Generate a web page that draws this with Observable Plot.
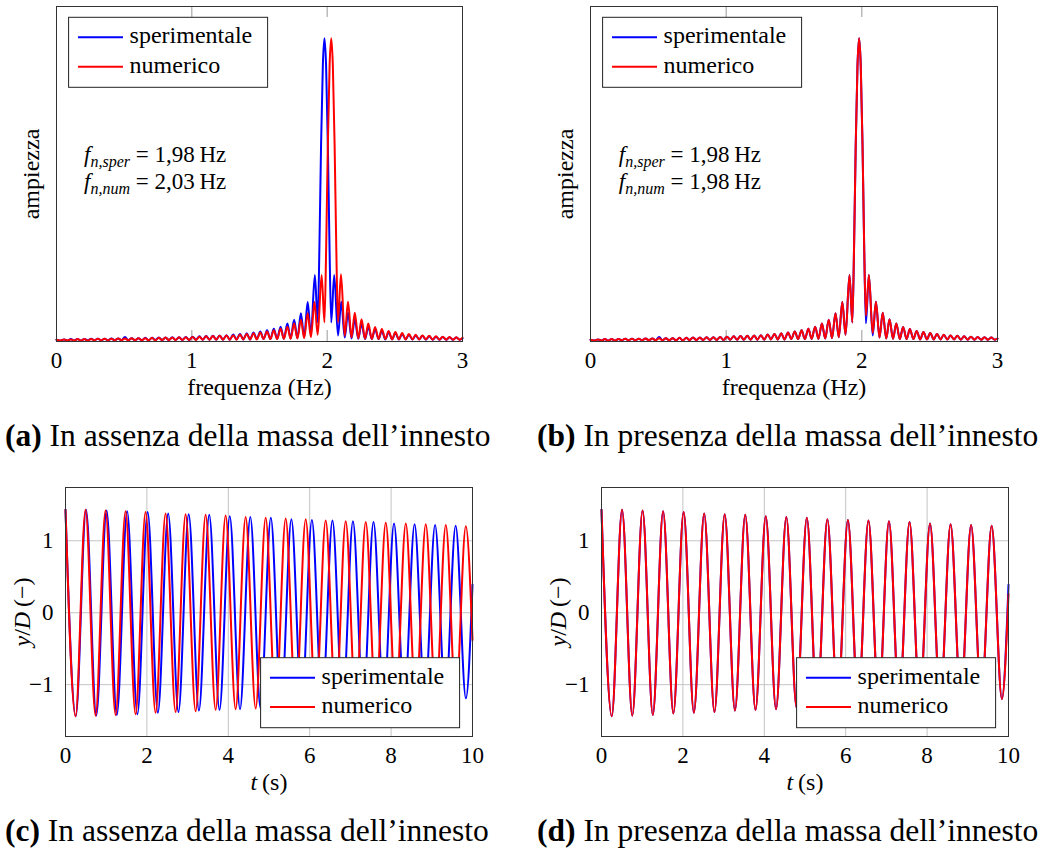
<!DOCTYPE html>
<html><head><meta charset="utf-8">
<script src="https://cdn.jsdelivr.net/npm/d3@7"></script>
<script src="https://cdn.jsdelivr.net/npm/@observablehq/plot@0.6"></script>
<style>
body{margin:0;background:#fff;}
#page{position:relative;width:1041px;height:851px;background:#fff;font-family:"Liberation Serif",serif;color:#000;overflow:hidden}
#page svg text, #page svg tspan{font-family:"Liberation Serif",serif !important;}
.panel{position:absolute}
.cap{position:absolute;font-size:31.5px;white-space:nowrap;line-height:32px}
</style></head><body><div id="page"></div>
<script>
// ---------- data ----------
const seriesNames = ["sperimentale", "numerico"];
const seriesColors = ["#0000ff", "#ff0000"];
const freqTicks = [0, 1, 2, 3];
const timeTicks = [0, 2, 4, 6, 8, 10];
const ampTicks = [-1, 0, 1];

// spectrum frequencies (Hz): troughs / lobe peaks
const freq198 = [0, 0.03,0.056, 0.08,0.106, 0.13,0.156, 0.18,0.206, 0.23,0.256, 0.28,0.306, 0.33,0.356, 0.38,0.406, 0.43,0.456, 0.48,0.506, 0.53,0.556, 0.58,0.606, 0.63,0.656, 0.68,0.706, 0.73,0.756, 0.78,0.806, 0.83,0.856, 0.88,0.906, 0.93,0.956, 0.98,1.006, 1.03,1.056, 1.08,1.106, 1.13,1.156, 1.18,1.206, 1.23,1.256, 1.28,1.306, 1.33,1.356, 1.38,1.406, 1.43,1.456, 1.48,1.506, 1.53,1.556, 1.58,1.606, 1.63,1.656, 1.68,1.706, 1.73,1.756, 1.78,1.806, 1.83,1.856, 1.88,1.909, 1.93, 1.943,1.955,1.968,1.98,1.992,2.005,2.017, 2.03, 2.052,2.08, 2.104,2.13, 2.154,2.18, 2.204,2.23, 2.254,2.28, 2.304,2.33, 2.354,2.38, 2.404,2.43, 2.454,2.48, 2.504,2.53, 2.554,2.58, 2.604,2.63, 2.654,2.68, 2.704,2.73, 2.754,2.78, 2.804,2.83, 2.854,2.88, 2.904,2.93, 2.954,2.98, 3];
const freq203 = [0, 0.03,0.056, 0.08,0.106, 0.13,0.156, 0.18,0.206, 0.23,0.256, 0.28,0.306, 0.33,0.356, 0.38,0.406, 0.43,0.456, 0.48,0.506, 0.53,0.556, 0.58,0.606, 0.63,0.656, 0.68,0.706, 0.73,0.756, 0.78,0.806, 0.83,0.856, 0.88,0.906, 0.93,0.956, 0.98,1.006, 1.03,1.056, 1.08,1.106, 1.13,1.156, 1.18,1.206, 1.23,1.256, 1.28,1.306, 1.33,1.356, 1.38,1.406, 1.43,1.456, 1.48,1.506, 1.53,1.556, 1.58,1.606, 1.63,1.656, 1.68,1.706, 1.73,1.756, 1.78,1.806, 1.83,1.856, 1.88,1.906, 1.93,1.959, 1.98, 1.993,2.005,2.018,2.03,2.042,2.055,2.067, 2.08, 2.102,2.13, 2.154,2.18, 2.204,2.23, 2.254,2.28, 2.304,2.33, 2.354,2.38, 2.404,2.43, 2.454,2.48, 2.504,2.53, 2.554,2.58, 2.604,2.63, 2.654,2.68, 2.704,2.73, 2.754,2.78, 2.804,2.83, 2.854,2.88, 2.904,2.93, 2.954,2.98, 3];

// (a) amplitudes (peak = 1)
const sperA_amp = [0.006, 0.003,0.007, 0.003,0.008, 0.003,0.008, 0.003,0.008, 0.004,0.009, 0.004,0.009, 0.004,0.009, 0.004,0.010, 0.004,0.010, 0.004,0.015, 0.004,0.011, 0.004,0.011, 0.004,0.012, 0.004,0.012, 0.005,0.013, 0.005,0.013, 0.005,0.014, 0.005,0.014, 0.005,0.015, 0.005,0.016, 0.006,0.017, 0.006,0.018, 0.006,0.019, 0.006,0.020, 0.006,0.021, 0.006,0.023, 0.007,0.025, 0.007,0.027, 0.007,0.030, 0.008,0.033, 0.008,0.037, 0.008,0.042, 0.009,0.049, 0.009,0.059, 0.010,0.072, 0.011,0.093, 0.014,0.130, 0.022,0.219, 0.063, 0.32,0.65,0.91,1.0,0.91,0.65,0.32, 0.063, 0.219,0.020, 0.131,0.013, 0.095,0.010, 0.073,0.009, 0.059,0.008, 0.048,0.008, 0.041,0.008, 0.035,0.007, 0.031,0.007, 0.028,0.007, 0.025,0.007, 0.022,0.007, 0.020,0.007, 0.019,0.006, 0.017,0.006, 0.016,0.006, 0.015,0.006, 0.014,0.006, 0.013,0.006, 0.010];
const numA_amp = [0.006, 0.003,0.007, 0.003,0.007, 0.003,0.008, 0.003,0.008, 0.003,0.008, 0.004,0.009, 0.004,0.009, 0.004,0.009, 0.004,0.010, 0.004,0.010, 0.004,0.011, 0.004,0.011, 0.004,0.011, 0.004,0.012, 0.004,0.012, 0.005,0.013, 0.005,0.013, 0.005,0.014, 0.005,0.014, 0.005,0.015, 0.005,0.016, 0.006,0.017, 0.006,0.018, 0.006,0.019, 0.006,0.020, 0.006,0.021, 0.006,0.023, 0.007,0.025, 0.007,0.027, 0.007,0.030, 0.008,0.033, 0.008,0.037, 0.008,0.042, 0.009,0.049, 0.009,0.059, 0.010,0.072, 0.011,0.093, 0.014,0.130, 0.022,0.219, 0.063, 0.32,0.65,0.91,1.0,0.91,0.65,0.32, 0.063, 0.222,0.019, 0.131,0.013, 0.095,0.010, 0.073,0.009, 0.059,0.008, 0.048,0.008, 0.041,0.008, 0.035,0.007, 0.031,0.007, 0.028,0.007, 0.025,0.007, 0.022,0.007, 0.020,0.007, 0.019,0.006, 0.017,0.006, 0.016,0.006, 0.015,0.006, 0.014,0.006, 0.013];
// (b) amplitudes
const sperB_amp = [0.006, 0.003,0.007, 0.003,0.008, 0.003,0.008, 0.003,0.008, 0.004,0.009, 0.004,0.009, 0.004,0.009, 0.004,0.010, 0.004,0.010, 0.004,0.015, 0.004,0.011, 0.004,0.011, 0.004,0.012, 0.004,0.012, 0.005,0.013, 0.005,0.013, 0.005,0.014, 0.005,0.014, 0.005,0.015, 0.005,0.016, 0.006,0.017, 0.006,0.018, 0.006,0.019, 0.006,0.020, 0.006,0.021, 0.006,0.023, 0.007,0.025, 0.007,0.027, 0.007,0.030, 0.008,0.033, 0.008,0.037, 0.008,0.042, 0.009,0.049, 0.009,0.059, 0.010,0.072, 0.011,0.093, 0.014,0.130, 0.022,0.219, 0.063, 0.32,0.65,0.91,1.0,0.91,0.65,0.32, 0.060, 0.219,0.020, 0.131,0.013, 0.095,0.010, 0.073,0.009, 0.059,0.008, 0.048,0.008, 0.041,0.008, 0.035,0.007, 0.031,0.007, 0.028,0.007, 0.025,0.007, 0.022,0.007, 0.020,0.007, 0.019,0.006, 0.017,0.006, 0.016,0.006, 0.015,0.006, 0.014,0.006, 0.013,0.006, 0.010];
const numB_amp = [0.006, 0.003,0.007, 0.003,0.008, 0.003,0.008, 0.003,0.008, 0.004,0.009, 0.004,0.009, 0.004,0.009, 0.004,0.010, 0.004,0.010, 0.004,0.011, 0.004,0.011, 0.004,0.011, 0.004,0.012, 0.004,0.012, 0.005,0.013, 0.005,0.013, 0.005,0.014, 0.005,0.014, 0.005,0.015, 0.005,0.016, 0.006,0.017, 0.006,0.018, 0.006,0.019, 0.006,0.020, 0.006,0.021, 0.006,0.023, 0.007,0.025, 0.007,0.027, 0.007,0.030, 0.008,0.033, 0.008,0.037, 0.008,0.042, 0.009,0.049, 0.009,0.059, 0.010,0.072, 0.011,0.093, 0.014,0.130, 0.022,0.219, 0.063, 0.32,0.65,0.91,1.0,0.91,0.65,0.32, 0.085, 0.219,0.028, 0.131,0.013, 0.095,0.010, 0.073,0.009, 0.059,0.008, 0.048,0.008, 0.041,0.008, 0.035,0.007, 0.031,0.007, 0.028,0.007, 0.025,0.007, 0.022,0.007, 0.020,0.007, 0.019,0.006, 0.017,0.006, 0.016,0.006, 0.015,0.006, 0.014,0.006, 0.013,0.006, 0.010];

// time histories: extrema times (s) and y/D values
const t198 = [0, 0.252, 0.505, 0.757, 1.009, 1.261, 1.514, 1.766, 2.018, 2.27, 2.523, 2.775, 3.027, 3.279, 3.532, 3.784, 4.036, 4.288, 4.541, 4.793, 5.045, 5.297, 5.55, 5.802, 6.054, 6.306, 6.559, 6.811, 7.063, 7.315, 7.568, 7.82, 8.072, 8.324, 8.577, 8.829, 9.081, 9.333, 9.586, 9.838, 10];
const t203 = [0, 0.246, 0.492, 0.738, 0.984, 1.23, 1.475, 1.721, 1.967, 2.213, 2.459, 2.705, 2.951, 3.197, 3.443, 3.689, 3.934, 4.18, 4.426, 4.672, 4.918, 5.164, 5.41, 5.656, 5.902, 6.148, 6.393, 6.639, 6.885, 7.131, 7.377, 7.623, 7.869, 8.115, 8.361, 8.607, 8.852, 9.098, 9.344, 9.59, 9.836, 10];
const sperC_y = [1.43, -1.44, 1.43, -1.43, 1.42, -1.42, 1.41, -1.41, 1.40, -1.39, 1.38, -1.38, 1.37, -1.36, 1.36, -1.35, 1.34, -1.34, 1.33, -1.33, 1.32, -1.31, 1.30, -1.30, 1.29, -1.29, 1.28, -1.27, 1.27, -1.26, 1.26, -1.25, 1.24, -1.24, 1.23, -1.22, 1.22, -1.21, 1.21, -1.19, 0.39];
const numC_y = [1.43, -1.44, 1.43, -1.43, 1.42, -1.42, 1.41, -1.41, 1.40, -1.39, 1.38, -1.38, 1.37, -1.37, 1.36, -1.35, 1.35, -1.34, 1.33, -1.33, 1.32, -1.32, 1.31, -1.30, 1.30, -1.29, 1.28, -1.28, 1.27, -1.27, 1.26, -1.25, 1.25, -1.24, 1.24, -1.23, 1.23, -1.22, 1.22, -1.21, 1.20, -0.38];
const sperD_y = [1.43, -1.44, 1.43, -1.43, 1.42, -1.42, 1.41, -1.40, 1.40, -1.39, 1.38, -1.38, 1.37, -1.36, 1.36, -1.35, 1.34, -1.34, 1.33, -1.32, 1.32, -1.31, 1.30, -1.30, 1.29, -1.28, 1.28, -1.27, 1.27, -1.26, 1.26, -1.25, 1.24, -1.24, 1.23, -1.22, 1.22, -1.21, 1.21, -1.20, 0.39];
const numD_y = [1.43, -1.44, 1.43, -1.43, 1.42, -1.42, 1.41, -1.40, 1.40, -1.39, 1.38, -1.38, 1.37, -1.36, 1.36, -1.35, 1.34, -1.34, 1.33, -1.32, 1.32, -1.31, 1.30, -1.30, 1.29, -1.28, 1.28, -1.27, 1.27, -1.26, 1.26, -1.25, 1.24, -1.24, 1.23, -1.22, 1.22, -1.21, 1.21, -1.20, 0.26];

const annotA = [{x: 0.204, y: 0.618, label: "fn,sper = 1,98 Hz"}, {x: 0.204, y: 0.526, label: "fn,num = 2,03 Hz"}];
const annotB = [{x: 0.209, y: 0.618, label: "fn,sper = 1,98 Hz"}, {x: 0.209, y: 0.526, label: "fn,num = 1,98 Hz"}];
const captions = [
  {tag: "(a)", text: "In assenza della massa dell\u2019innesto"},
  {tag: "(b)", text: "In presenza della massa dell\u2019innesto"},
  {tag: "(c)", text: "In assenza della massa dell\u2019innesto"},
  {tag: "(d)", text: "In presenza della massa dell\u2019innesto"}
];

// ---------- rendering ----------
const FONT = '"Liberation Serif", serif';
const rich = {
  "fn,sper = 1,98 Hz": [["f", 1], ["n,sper", 1, 1], [" = 1,98\u2009Hz"]],
  "fn,num = 2,03 Hz": [["f", 1], ["n,num", 1, 1], [" = 2,03\u2009Hz"]],
  "fn,num = 1,98 Hz": [["f", 1], ["n,num", 1, 1], [" = 1,98\u2009Hz"]],
  "y/D (-)": [["y", 1], ["/"], ["D", 1], ["\u2009(\u2212)"]],
  "t (s)": [["t", 1], ["\u2009(s)"]]
};
function enrich(svg) {
  d3.select(svg).selectAll("text").each(function() {
    const parts = rich[this.textContent];
    if (!parts) return;
    const el = d3.select(this);
    el.text(null);
    let shifted = false;
    for (const [t, it, sub] of parts) {
      const ts = el.append("tspan").text(t);
      if (it) ts.attr("font-style", "italic");
      if (sub) { ts.attr("font-size", "16px").attr("dy", 5); shifted = true; }
      else if (shifted) { ts.attr("dy", -5); shifted = false; }
    }
  });
}
function addLegend(svg, bx, by) {
  const w = 199, h = 70;
  const g = d3.select(svg).append("g").attr("font-size", "24px").attr("font-family", FONT).attr("text-anchor", "start");
  g.append("rect").attr("x", bx).attr("y", by).attr("width", w).attr("height", h)
    .attr("fill", "white").attr("stroke", "#222").attr("stroke-width", 1);
  seriesNames.forEach((name, i) => {
    const cy = by + 20 + i * 29.4;
    g.append("line").attr("x1", bx + 9.4).attr("x2", bx + 54.4).attr("y1", cy).attr("y2", cy)
      .attr("stroke", seriesColors[i]).attr("stroke-width", 2);
    g.append("text").attr("x", bx + 61).attr("y", cy + 6).attr("fill", "black")
      .attr("text-anchor", "start").text(name);
  });
}
const zip = (xs, ys) => xs.map((x, i) => ({x, y: ys[i]})).filter(d => d.y !== undefined);
const fmt = d => d < 0 ? "\u2212" + Math.abs(d) : String(d);
const STYLE = {fontFamily: FONT, fontSize: "23px", background: "white", color: "black", overflow: "visible"};

function spectrum({freqS, ampS, freqN, ampN, annot, width, ml, mr}) {
  const H = 400, mt = 6, mb = 59;
  const ydom = [0, 1.105];
  const tl = 11 / (H - mt - mb) * (ydom[1] - ydom[0]);
  const svg = Plot.plot({
    width, height: H, marginLeft: ml, marginRight: mr, marginTop: mt, marginBottom: mb, style: STYLE,
    x: {domain: [0, 3], ticks: freqTicks, tickSize: 0, tickPadding: 10.5, label: null, tickFormat: fmt},
    y: {domain: ydom, axis: null},
    marks: [
      Plot.ruleX(freqTicks, {x: d => d, y1: ydom[0], y2: ydom[0] + tl, stroke: "#999"}),
      Plot.ruleX(freqTicks, {x: d => d, y1: ydom[1] - tl, y2: ydom[1], stroke: "#999"}),
      Plot.line(zip(freqS, ampS), {x: "x", y: "y", stroke: seriesColors[0], strokeWidth: 2, curve: "monotone-x"}),
      Plot.line(zip(freqN, ampN), {x: "x", y: "y", stroke: seriesColors[1], strokeWidth: 2, curve: "monotone-x"}),
      Plot.frame({stroke: "#333"}),
      Plot.text(["frequenza (Hz)"], {text: d => d, frameAnchor: "bottom", lineAnchor: "middle", textAnchor: "middle", dy: 46, fontSize: 24}),
      Plot.text(["ampiezza"], {text: d => d, frameAnchor: "left", lineAnchor: "middle", textAnchor: "middle", dx: -25, rotate: -90, fontSize: 24}),
      Plot.text(annot, {x: "x", y: "y", text: "label", textAnchor: "start", lineAnchor: "middle", fontSize: 23})
    ]
  });
  enrich(svg);
  addLegend(svg, ml + 12.6, mt + 11.3);
  return svg;
}
function history({tS, yS, tN, yN, width, ml, mr}) {
  const H = 330, mt = 17, mb = 64;
  const svg = Plot.plot({
    width, height: H, marginLeft: ml, marginRight: mr, marginTop: mt, marginBottom: mb, style: STYLE,
    x: {domain: [0, 10], ticks: timeTicks, tickSize: 0, tickPadding: 10.5, label: null, tickFormat: fmt},
    y: {domain: [-1.72, 1.74], ticks: ampTicks, tickSize: 0, tickPadding: 12, label: null, tickFormat: fmt},
    marks: [
      Plot.ruleX(timeTicks, {x: d => d, stroke: "#c4c4c4"}),
      Plot.ruleY(ampTicks, {y: d => d, stroke: "#c4c4c4"}),
      Plot.line(zip(tS, yS), {x: "x", y: "y", stroke: seriesColors[0], strokeWidth: 2, curve: "monotone-x"}),
      Plot.line(zip(tN, yN), {x: "x", y: "y", stroke: seriesColors[1], strokeWidth: 2, curve: "monotone-x"}),
      Plot.frame({stroke: "#333"}),
      Plot.text(["t (s)"], {text: d => d, frameAnchor: "bottom", lineAnchor: "middle", textAnchor: "middle", dy: 45.5, fontSize: 24}),
      Plot.text(["y/D (-)"], {text: d => d, frameAnchor: "left", lineAnchor: "middle", textAnchor: "middle", dx: -43, rotate: -90, fontSize: 24})
    ]
  });
  enrich(svg);
  const fr = width - mr, fb = H - mb;
  addLegend(svg, fr - 12.4 - 199, fb - 8.3 - 70);
  return svg;
}

const page = document.getElementById("page");
function place(node, left, top) {
  const d = document.createElement("div");
  d.className = "panel"; d.style.left = left + "px"; d.style.top = top + "px";
  d.appendChild(node); page.appendChild(d);
}
place(spectrum({freqS: freq198, ampS: sperA_amp, freqN: freq203, ampN: numA_amp, annot: annotA, width: 520, ml: 56, mr: 58}), 0, 0);
place(spectrum({freqS: freq198, ampS: sperB_amp, freqN: freq198, ampN: numB_amp, annot: annotB, width: 511, ml: 60, mr: 44}), 530, 0);
place(history({tS: t198, yS: sperC_y, tN: t203, yN: numC_y, width: 520, ml: 65, mr: 48}), 0, 470);
place(history({tS: t198, yS: sperD_y, tN: t198, yN: numD_y, width: 501, ml: 61, mr: 33}), 540, 470);

const capPos = [[5, 437], [537, 437], [5, 832], [537, 832]];
captions.forEach((c, i) => {
  const d = document.createElement("div");
  d.className = "cap";
  d.style.left = capPos[i][0] + "px";
  d.style.top = (capPos[i][1] - 17) + "px";
  const b = document.createElement("b"); b.textContent = c.tag;
  d.appendChild(b);
  d.appendChild(document.createTextNode(" " + c.text));
  page.appendChild(d);
});
</script></body></html>
